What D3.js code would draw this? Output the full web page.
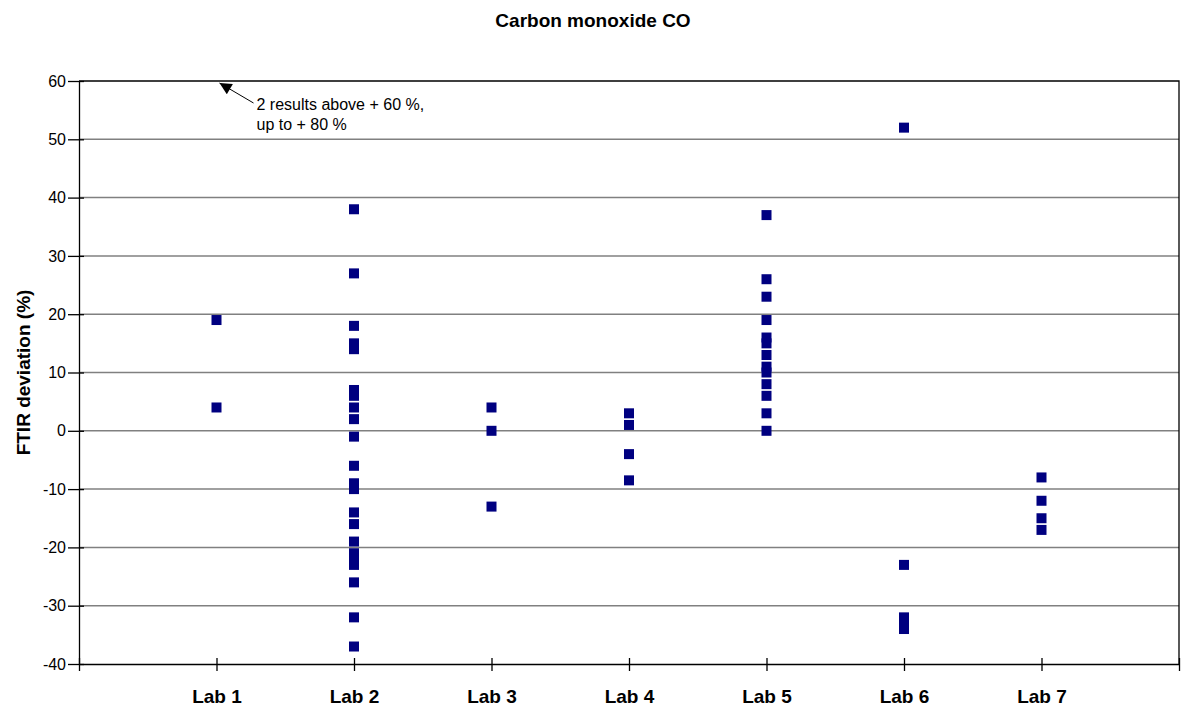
<!DOCTYPE html>
<html>
<head>
<meta charset="utf-8">
<script src="https://cdn.jsdelivr.net/npm/d3@7"></script>
<style>
body { margin: 0; background: #fff; }
text { font-family: "Liberation Sans", Arial, sans-serif; }
</style>
</head>
<body>
<div id="chart"></div>
<script>
var labs = ["Lab 1", "Lab 2", "Lab 3", "Lab 4", "Lab 5", "Lab 6", "Lab 7"];
var lab1 = [19, 4];
var lab2 = [38, 27, 18, 15, 14, 7, 6, 4, 2, -1, -6, -9, -10, -14, -16, -19, -21, -22, -23, -26, -32, -37];
var lab3 = [4, 0, -13];
var lab4 = [3, 1, -4, -8.5];
var lab5 = [37, 26, 23, 19, 16, 15, 13, 11, 10, 8, 6, 3, 0];
var lab6 = [52, -23, -32, -33, -34];
var lab7 = [-8, -12, -15, -17];
var yTicks = [-40, -30, -20, -10, 0, 10, 20, 30, 40, 50, 60];
var noteLines = ["2 results above + 60 %,", "up to + 80 %"];

var width = 1183, height = 710;
var margin = { top: 81, right: 4, bottom: 46, left: 79 };

// flatten the per-lab arrays into points
var series = [lab1, lab2, lab3, lab4, lab5, lab6, lab7];
var points = [];
series.forEach(function (vals, i) {
    vals.forEach(function (v) { points.push({ lab: i + 1, value: v }); });
});

var svg = d3.select("#chart").append("svg")
    .attr("width", width)
    .attr("height", height);

var x = d3.scaleLinear().domain([0, 8]).range([margin.left, width - margin.right]);
var y = d3.scaleLinear().domain([-40, 60]).range([height - margin.bottom, margin.top]);

// gridlines
svg.append("g")
    .selectAll("line")
    .data(yTicks.filter(function (t) { return t > -40 && t < 60; }))
    .enter().append("line")
    .attr("x1", x(0)).attr("x2", x(8))
    .attr("y1", function (d) { return y(d); })
    .attr("y2", function (d) { return y(d); })
    .attr("stroke", "#808080")
    .attr("stroke-width", 1.5);

// plot border (top, right)
svg.append("path")
    .attr("d", "M" + x(0) + "," + y(60) + "H" + x(8) + "V" + y(-40))
    .attr("fill", "none")
    .attr("stroke", "#000")
    .attr("stroke-width", 1.3);

// y axis (plain hyphen for negatives, like the original)
var yAxis = svg.append("g")
    .attr("transform", "translate(" + x(0) + ",0)")
    .call(d3.axisLeft(y).tickValues(yTicks).tickSize(0).tickPadding(13)
        .tickFormat(function (d) { return String(d); }));
yAxis.select(".domain").attr("stroke", "#000").attr("stroke-width", 1.3);
yAxis.selectAll(".tick text").attr("font-size", 16).attr("fill", "#000")
    .attr("font-family", "Liberation Sans, Arial, sans-serif");
yAxis.selectAll(".tick").append("line")
    .attr("x1", -11).attr("x2", 5)
    .attr("stroke", "#000").attr("stroke-width", 1.3);

// x axis
var xAxis = svg.append("g")
    .attr("transform", "translate(0," + y(-40) + ")")
    .call(d3.axisBottom(x).tickValues(d3.range(0, 9)).tickSize(0).tickPadding(26)
        .tickFormat(function (d) { return labs[d - 1] || ""; }));
xAxis.select(".domain").attr("stroke", "#000").attr("stroke-width", 1.3);
xAxis.selectAll(".tick text").attr("font-size", 19).attr("font-weight", "bold").attr("fill", "#000")
    .attr("font-family", "Liberation Sans, Arial, sans-serif");
xAxis.selectAll(".tick").append("line")
    .attr("y1", -6).attr("y2", 7)
    .attr("stroke", "#000").attr("stroke-width", 1.3);

// markers
var ms = 10;
svg.append("g")
    .selectAll("rect")
    .data(points)
    .enter().append("rect")
    .attr("x", function (d) { return x(d.lab) - ms / 2; })
    .attr("y", function (d) { return y(d.value) - ms / 2; })
    .attr("width", ms)
    .attr("height", ms)
    .attr("fill", "#000080");

// title
svg.append("text")
    .attr("x", 593)
    .attr("y", 27)
    .attr("text-anchor", "middle")
    .attr("font-size", 19)
    .attr("font-weight", "bold")
    .text("Carbon monoxide CO");

// y axis title
svg.append("text")
    .attr("transform", "translate(30," + ((y(60) + y(-40)) / 2) + ") rotate(-90)")
    .attr("text-anchor", "middle")
    .attr("font-size", 19)
    .attr("font-weight", "bold")
    .text("FTIR deviation (%)");

// annotation with arrow
svg.append("defs").append("marker")
    .attr("id", "arrowhead")
    .attr("viewBox", "0 0 10 10")
    .attr("refX", 10).attr("refY", 5)
    .attr("markerWidth", 20).attr("markerHeight", 12)
    .attr("markerUnits", "userSpaceOnUse")
    .attr("orient", "auto")
    .append("path")
    .attr("d", "M0,0L10,5L0,10Z")
    .attr("fill", "#000");

var tipX = x(1) + 3, tipY = y(60) + 2;
svg.append("line")
    .attr("x1", tipX + 34).attr("y1", tipY + 20)
    .attr("x2", tipX).attr("y2", tipY)
    .attr("stroke", "#000")
    .attr("stroke-width", 1)
    .attr("marker-end", "url(#arrowhead)");

svg.append("g")
    .selectAll("text")
    .data(noteLines)
    .enter().append("text")
    .attr("x", tipX + 37)
    .attr("y", function (d, i) { return tipY + 27 + i * 20; })
    .attr("font-size", 16)
    .text(function (d) { return d; });
</script>
</body>
</html>
